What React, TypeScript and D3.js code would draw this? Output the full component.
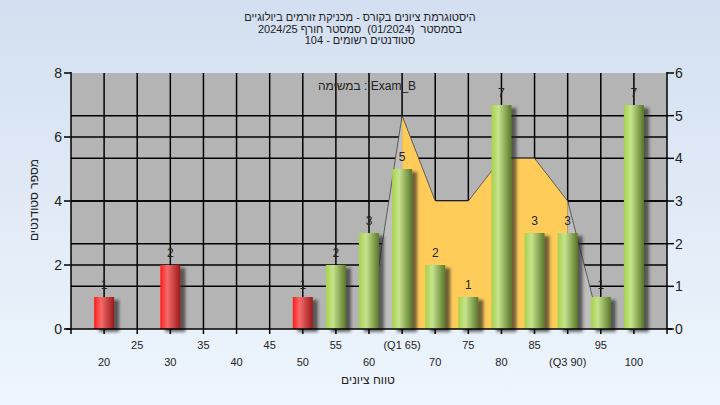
import { scaleLinear, line, area } from "d3";

// histogram bins (score) and student counts
const scores = [20, 30, 50, 55, 60, 65, 70, 75, 80, 85, 90, 95, 100];
const counts = [1, 2, 1, 2, 3, 5, 2, 1, 7, 3, 3, 1, 7];
const passScore = 55;

// distribution polygon on the right axis
const curveScores = [60, 65, 70, 75, 80, 85, 90, 95, 100];
const curveValues = [0, 5, 3, 3, 4, 4, 3, 0, 0];
const q1 = 65;
const q3 = 90;

// tick labels
const xTicksTop = ["25", "35", "45", "55", "(Q1 65)", "75", "85", "95"];
const xTicksTopPos = [25, 35, 45, 55, 65, 75, 85, 95];
const xTicksBottom = ["20", "30", "40", "50", "60", "70", "80", "(Q3 90)", "100"];
const xTicksBottomPos = [20, 30, 40, 50, 60, 70, 80, 90, 100];
const leftTicks = [0, 2, 4, 6, 8];
const rightTicks = [0, 1, 2, 3, 4, 5, 6];

const titleLines = [
    "היסטוגרמת ציונים בקורס - מכניקת זורמים ביולוגיים",
    "בסמסטר  (01/2024)  סמסטר חורף 2024/25",
    "סטודנטים רשומים - 104",
];

const FONT = "'Liberation Sans', Arial, 'DejaVu Sans', sans-serif";

export default function App() {
    const plot = { left: 71, right: 667, top: 73, bottom: 329 };

    const x = scaleLinear().domain([15, 105]).range([plot.left, plot.right]);
    const yL = scaleLinear().domain([0, 8]).range([plot.bottom, plot.top]);
    const yR = scaleLinear().domain([0, 6]).range([plot.bottom, plot.top]);

    const barW = 20;
    const pts = curveScores.map((s, i) => ({ s, v: curveValues[i] }));
    const areaGen = area<{ s: number; v: number }>()
        .x((d) => x(d.s))
        .y0(plot.bottom)
        .y1((d) => yR(d.v));
    const lineGen = line<{ s: number; v: number }>()
        .x((d) => x(d.s))
        .y((d) => yR(d.v));
    const leftTail = pts.filter((d) => d.s <= q1);
    const mid = pts.filter((d) => d.s >= q1 && d.s <= q3);
    const rightTail = pts.filter((d) => d.s >= q3);

    const gridTicks = xTicksBottomPos.concat(xTicksTopPos);

    return (
        <svg
            width={720}
            height={405}
            style={{ position: "absolute", left: 0, top: 0 }}
            fontFamily={FONT}
        >
            <defs>
                <linearGradient id="bg" x1="0" y1="0" x2="0" y2="1">
                    <stop offset="0" stopColor="#d3dff0" />
                    <stop offset="1" stopColor="#eef5fd" />
                </linearGradient>
                <linearGradient id="red" x1="0" y1="0" x2="1" y2="0">
                    <stop offset="0" stopColor="#ff1c1c" />
                    <stop offset="0.35" stopColor="#f46a6a" />
                    <stop offset="1" stopColor="#9c1a1a" />
                </linearGradient>
                <linearGradient id="green" x1="0" y1="0" x2="1" y2="0">
                    <stop offset="0" stopColor="#a6d24a" />
                    <stop offset="0.35" stopColor="#c6e38e" />
                    <stop offset="1" stopColor="#5a7829" />
                </linearGradient>
                <filter id="shadow" x="-20%" y="-10%" width="160%" height="130%">
                    <feDropShadow dx="5" dy="3" stdDeviation="1.8" floodColor="#222" floodOpacity="0.65" />
                </filter>
            </defs>

            <rect width={720} height={405} fill="url(#bg)" />

            {/* title */}
            {titleLines.map((t, i) => (
                <text
                    key={i}
                    x={360}
                    y={21 + i * 11.5}
                    textAnchor="middle"
                    direction="rtl"
                    xmlSpace="preserve"
                    style={{ whiteSpace: "pre" }}
                    fontSize={11}
                    fill="#222"
                >
                    {t}
                </text>
            ))}

            {/* plot area */}
            <rect
                x={plot.left}
                y={plot.top}
                width={plot.right - plot.left}
                height={plot.bottom - plot.top}
                fill="#b4b4b4"
            />

            {/* grid */}
            {gridTicks.map((t) => (
                <line key={`gx-${t}`} x1={x(t)} x2={x(t)} y1={plot.top} y2={plot.bottom} stroke="#000" strokeWidth={1.5} />
            ))}
            {leftTicks.slice(1, -1).map((t) => (
                <line key={`gl-${t}`} x1={plot.left} x2={plot.right} y1={yL(t)} y2={yL(t)} stroke="#000" strokeWidth={1.5} />
            ))}
            {rightTicks.slice(1, -1).map((t) => (
                <line key={`gr-${t}`} x1={plot.left} x2={plot.right} y1={yR(t)} y2={yR(t)} stroke="#000" strokeWidth={1.5} />
            ))}

            {/* distribution polygon */}
            <path d={areaGen(leftTail) ?? ""} fill="#bfbfbf" />
            <path d={areaGen(rightTail) ?? ""} fill="#bfbfbf" />
            <path d={areaGen(mid) ?? ""} fill="#ffcc5a" />
            <path d={lineGen(pts) ?? ""} fill="none" stroke="#444" strokeWidth={1} strokeOpacity={0.8} />

            {/* bars */}
            {scores.map((s, i) => (
                <rect
                    key={`bar-${s}`}
                    x={x(s) - barW / 2}
                    y={yL(counts[i])}
                    width={barW}
                    height={plot.bottom - yL(counts[i])}
                    fill={s < passScore ? "url(#red)" : "url(#green)"}
                    filter="url(#shadow)"
                />
            ))}
            {scores.map((s, i) => (
                <text
                    key={`lbl-${s}`}
                    x={x(s)}
                    y={yL(counts[i]) - 8}
                    textAnchor="middle"
                    fontSize={12}
                    fill="#222"
                >
                    {counts[i]}
                </text>
            ))}

            {/* annotation */}
            <text x={367} y={90} textAnchor="middle" fontSize={12} fill="#222">
                במשימה : Exam_B
            </text>

            {/* left axis */}
            <line x1={plot.left} x2={plot.left} y1={plot.top - 1} y2={plot.bottom + 5} stroke="#000" strokeWidth={1.5} />
            {leftTicks.map((t) => (
                <g key={`lt-${t}`}>
                    <line x1={plot.left - 7} x2={plot.left} y1={yL(t)} y2={yL(t)} stroke="#000" strokeWidth={1.5} />
                    <text x={plot.left - 9} y={yL(t) + 5} textAnchor="end" fontSize={14} fill="#222">
                        {t}
                    </text>
                </g>
            ))}

            {/* right axis */}
            <line x1={plot.right} x2={plot.right} y1={plot.top - 1} y2={plot.bottom + 5} stroke="#000" strokeWidth={1.5} />
            {rightTicks.map((t) => (
                <g key={`rt-${t}`}>
                    <line x1={plot.right} x2={plot.right + 7} y1={yR(t)} y2={yR(t)} stroke="#000" strokeWidth={1.5} />
                    <text x={plot.right + 8} y={yR(t) + 5} textAnchor="start" fontSize={14} fill="#222">
                        {t}
                    </text>
                </g>
            ))}

            {/* bottom axis */}
            <line x1={plot.left - 5} x2={plot.right + 5} y1={plot.bottom} y2={plot.bottom} stroke="#000" strokeWidth={1.5} />
            {gridTicks.map((t) => (
                <line key={`bt-${t}`} x1={x(t)} x2={x(t)} y1={plot.bottom} y2={plot.bottom + 5} stroke="#000" strokeWidth={1.5} />
            ))}
            {xTicksTop.map((t, i) => (
                <text key={`xt-${i}`} x={x(xTicksTopPos[i])} y={349} textAnchor="middle" fontSize={11} fill="#222">
                    {t}
                </text>
            ))}
            {xTicksBottom.map((t, i) => (
                <text key={`xb-${i}`} x={x(xTicksBottomPos[i])} y={366} textAnchor="middle" fontSize={11} fill="#222">
                    {t}
                </text>
            ))}

            {/* axis titles */}
            <text x={368} y={384} textAnchor="middle" direction="rtl" fontSize={12} fill="#222">
                טווח ציונים
            </text>
            <text
                transform="translate(38, 200) rotate(-90)"
                textAnchor="middle"
                direction="rtl"
                fontSize={12}
                fill="#222"
            >
                מספר סטודנטים
            </text>
        </svg>
    );
}
